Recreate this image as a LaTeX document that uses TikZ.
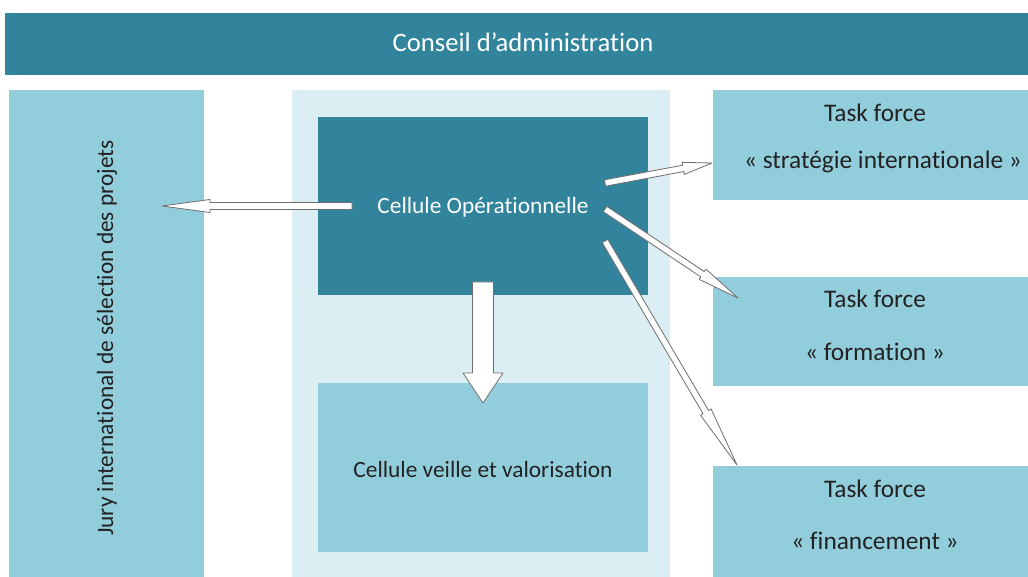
\documentclass[tikz,border=0pt]{standalone}
\usepackage{fontspec}
\setmainfont{Carlito}[Ligatures=NoCommon]
\usetikzlibrary{calc,fit}
\definecolor{dteal}{HTML}{31849B}
\definecolor{lteal}{HTML}{92CDDC}
\definecolor{pteal}{HTML}{DAEEF3}
\definecolor{txtdark}{HTML}{222222}
\definecolor{arrline}{HTML}{6E6E6E}
\newcommand\blockarrow[6]{%
  \coordinate (ba-h) at ($(#2)!#5!(#1)$);
  \draw[#6] ($(#1)!#3!90:(#2)$) -- ($(ba-h)!#3!90:(#2)$) -- ($(ba-h)!#4!90:(#2)$) -- (#2)
    -- ($(ba-h)!#4!-90:(#2)$) -- ($(ba-h)!#3!-90:(#2)$) -- ($(#1)!#3!-90:(#2)$) -- cycle;}
\tikzset{
  area/.style={inner sep=0pt, outer sep=0pt, draw=none},
  darkbox/.style={area, fill=dteal},
  lightbox/.style={area, fill=lteal},
  palebox/.style={area, fill=pteal},
  wlabel/.style={text=white, inner sep=0pt},
  dlabel/.style={text=txtdark, inner sep=0pt},
  tftext/.style={dlabel, font=\fontsize{19}{22}\selectfont},
  arrowbody/.style={fill=white, draw=arrline, line width=0.6pt, line join=round},
}
\begin{document}
\begin{tikzpicture}[x=0.75pt,y=-0.75pt]
\useasboundingbox (0,0) rectangle (1028,577);
\fill[white] (0,0) rectangle (1028,577);
% boxes
\node[darkbox, fit={(5,13) (1028,75)}] (ca) {};
\node[lightbox, fit={(9,90) (204,577)}] (jury) {};
\node[palebox, fit={(292,90) (670,577)}] (bg) {};
\node[darkbox, fit={(318,117) (648,295)}] (cop) {};
\node[lightbox, fit={(318,383) (648,552)}] (cvv) {};
\node[lightbox, fit={(713,90) (1028,200)}] (tf1) {};
\node[lightbox, fit={(713,277) (1028,386)}] (tf2) {};
\node[lightbox, fit={(713,466) (1028,577)}] (tf3) {};
% labels
\node[wlabel, font=\fontsize{20}{23}\selectfont] at (523,42) {Conseil d’administration};
\node[dlabel, font=\fontsize{17.5}{20}\selectfont, rotate=90] at (107,338) {Jury international de sélection des projets};
\node[wlabel, font=\fontsize{17.5}{20}\selectfont] at (483,207) {Cellule Opérationnelle};
\node[dlabel, font=\fontsize{17.5}{20}\selectfont] at (483,469) {Cellule veille et valorisation};
\node[tftext] at (875,113) {Task force};
\node[tftext] at (883,162) {« stratégie internationale »};
\node[tftext] at (875,299) {Task force};
\node[tftext] at (875,352) {« formation »};
\node[tftext] at (875,489) {Task force};
\node[tftext] at (875,541) {« financement »};
% arrow end points
\coordinate (s0) at (352,206);
\coordinate (e0) at (162,206);
\coordinate (s1) at (605,183);
\coordinate (e1) at (712,163);
\coordinate (s2) at (605,209);
\coordinate (e2) at (738,298);
\coordinate (s3) at (605,241);
\coordinate (e3) at (737,465);
\coordinate (sd) at (483,282);
\coordinate (ed) at (483,403);
% arrows
\blockarrow{s0}{e0}{2.6pt}{4.9pt}{36pt}{arrowbody}
\blockarrow{s1}{e1}{2.4pt}{4.6pt}{22pt}{arrowbody}
\blockarrow{s2}{e2}{2.4pt}{4.6pt}{32pt}{arrowbody}
\blockarrow{s3}{e3}{2.4pt}{4.6pt}{46pt}{arrowbody}
\blockarrow{sd}{ed}{7.9pt}{15pt}{22.5pt}{arrowbody}
\end{tikzpicture}
\end{document}
